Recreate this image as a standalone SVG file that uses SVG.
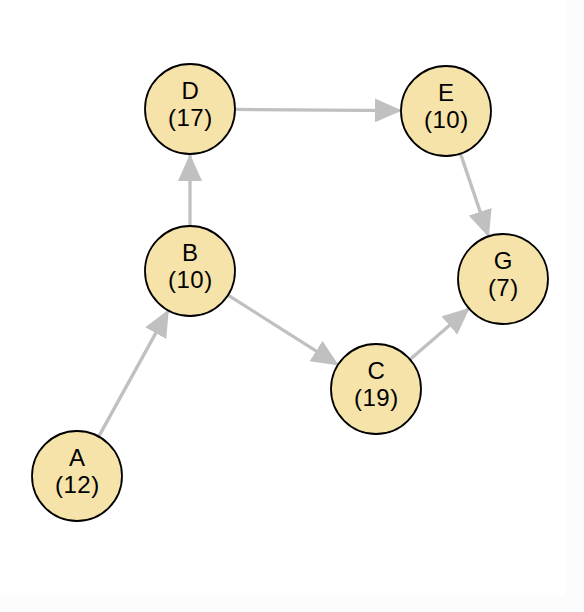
<svg xmlns="http://www.w3.org/2000/svg" width="584" height="612" viewBox="0 0 584 612">
<style>
.node circle{fill:#f6e3aa;stroke:#000;stroke-width:1.8}
.node text{font-family:"Liberation Sans",Arial,sans-serif;font-size:24px;letter-spacing:0.5px;fill:#000;text-anchor:middle}
.edge{stroke:#c0c0c0;stroke-width:3.3;fill:none;marker-end:url(#arr)}
</style>
<defs>
<marker id="arr" markerUnits="userSpaceOnUse" markerWidth="27" markerHeight="24" viewBox="0 0 27 24" refX="26" refY="12" orient="auto">
<path d="M0,0 L27,12 L0,24 z" fill="#c0c0c0"/>
</marker>
</defs>
<rect width="584" height="612" fill="#fff"/>
<rect x="565" y="0" width="19" height="612" fill="#fcfcfc"/>
<rect x="0" y="596" width="584" height="16" fill="#fcfcfc"/>
<g id="edges">
<line class="edge" x1="98.7" y1="436.6" x2="168.3" y2="310.4"/>
<line class="edge" x1="190" y1="226" x2="190" y2="155"/>
<line class="edge" x1="228" y1="295.1" x2="338" y2="364.9"/>
<line class="edge" x1="410" y1="359.5" x2="469" y2="308.5"/>
<line class="edge" x1="235" y1="109.4" x2="401" y2="110.6"/>
<line class="edge" x1="460.5" y1="153.6" x2="488.5" y2="236.4"/>
</g>
<g id="D" class="node"><circle cx="190" cy="109" r="45"/><text x="190.3" y="99">D</text><text x="190.3" y="126">(17)</text></g>
<g id="E" class="node"><circle cx="446" cy="111" r="45"/><text x="446.3" y="101">E</text><text x="446.3" y="128">(10)</text></g>
<g id="B" class="node"><circle cx="190" cy="271" r="45"/><text x="190.3" y="261">B</text><text x="190.3" y="288">(10)</text></g>
<g id="G" class="node"><circle cx="503" cy="279" r="45"/><text x="503.3" y="269">G</text><text x="503.3" y="296">(7)</text></g>
<g id="C" class="node"><circle cx="376" cy="389" r="45"/><text x="376.3" y="379">C</text><text x="376.3" y="406">(19)</text></g>
<g id="A" class="node"><circle cx="77" cy="476" r="45"/><text x="77.3" y="466">A</text><text x="77.3" y="493">(12)</text></g>
</svg>
